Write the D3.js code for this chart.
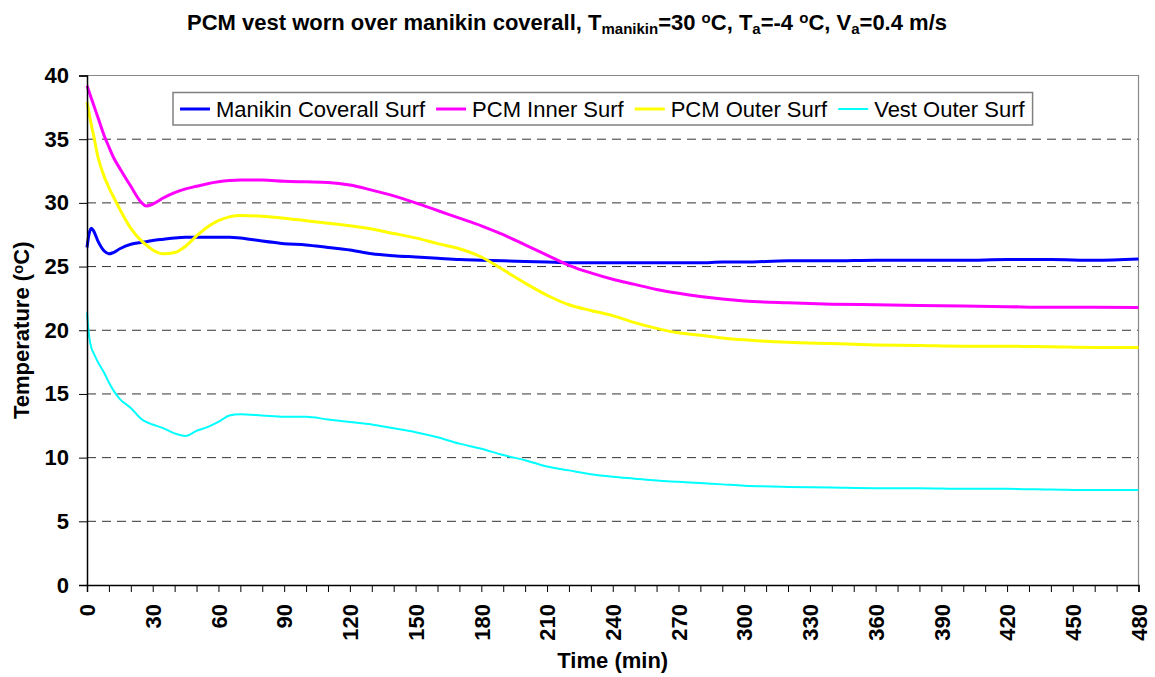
<!DOCTYPE html>
<html>
<head>
<meta charset="utf-8">
<script src="https://cdn.jsdelivr.net/npm/d3@7"></script>
<style>
  body { margin: 0; background: #fff; }
  text { font-family: Arial, "Liberation Sans", sans-serif; }
  .tick text { font-weight: bold; font-size: 22px; fill: #000; }
</style>
</head>
<body>
<script>
var w = 1155;
var h = 677;

// time in minutes, shared by all four series
var times = [0, 1, 2, 3, 5, 8, 10, 12, 15, 20, 25, 27, 30, 35, 40, 45, 50, 55, 60, 65, 70,
  80, 90, 100, 110, 120, 130, 140, 150, 160, 170, 180, 190, 200, 210, 220, 230, 240, 250,
  260, 270, 280, 290, 300, 320, 340, 360, 380, 400, 420, 440, 460, 480];

var manikin = [26.5, 27.6, 28.0, 27.8, 27.0, 26.2, 26.0, 26.1, 26.4, 26.75, 26.9, 26.95, 27.05,
  27.15, 27.25, 27.3, 27.3, 27.3, 27.3, 27.3, 27.25, 27.0, 26.8, 26.7, 26.5, 26.3, 26.0, 25.85,
  25.75, 25.65, 25.55, 25.5, 25.45, 25.4, 25.35, 25.3, 25.3, 25.3, 25.3, 25.3, 25.3, 25.3, 25.35,
  25.35, 25.45, 25.45, 25.5, 25.5, 25.5, 25.55, 25.55, 25.5, 25.6];

var pcmInner = [39.2, 38.7, 38.2, 37.7, 36.7, 35.2, 34.4, 33.6, 32.7, 31.3, 30.0, 29.75, 29.9,
  30.4, 30.8, 31.1, 31.3, 31.5, 31.65, 31.75, 31.8, 31.8, 31.7, 31.65, 31.6, 31.4, 31.0, 30.55,
  30.0, 29.4, 28.8, 28.2, 27.5, 26.7, 25.9, 25.1, 24.5, 24.0, 23.6, 23.2, 22.9, 22.65, 22.45,
  22.3, 22.15, 22.05, 22.0, 21.95, 21.9, 21.85, 21.8, 21.8, 21.78];

var pcmOuter = [37.9, 37.0, 36.1, 35.3, 33.6, 32.0, 31.2, 30.5, 29.5, 28.0, 27.0, 26.7, 26.3,
  26.0, 26.1, 26.6, 27.4, 28.1, 28.6, 28.9, 29.0, 28.95, 28.8, 28.6, 28.4, 28.2, 27.95, 27.6,
  27.25, 26.8, 26.4, 25.75, 24.75, 23.7, 22.75, 22.0, 21.55, 21.15, 20.6, 20.15, 19.8, 19.6,
  19.4, 19.25, 19.05, 18.95, 18.85, 18.8, 18.75, 18.75, 18.7, 18.65, 18.65];

var vestOuter = [21.4, 19.5, 18.6, 18.2, 17.5, 16.6, 15.9, 15.3, 14.6, 13.9, 13.0, 12.8, 12.6,
  12.3, 11.9, 11.7, 12.1, 12.4, 12.8, 13.3, 13.4, 13.3, 13.2, 13.2, 13.0, 12.8, 12.6, 12.3,
  12.0, 11.6, 11.1, 10.7, 10.2, 9.8, 9.3, 9.0, 8.7, 8.5, 8.35, 8.2, 8.1, 8.0, 7.9, 7.8, 7.7,
  7.65, 7.6, 7.6, 7.55, 7.55, 7.5, 7.45, 7.45];

var seriesNames = ['Manikin Coverall Surf', 'PCM Inner Surf', 'PCM Outer Surf', 'Vest Outer Surf'];
var seriesValues = [manikin, pcmInner, pcmOuter, vestOuter];
var seriesColors = ['#0000ff', '#ff00ff', '#ffff00', '#00ffff'];
var seriesWidths = [3, 3, 3, 2];

var xTicks = d3.range(0, 481, 30);
var xMinor = d3.range(0, 481, 10);
var yTicks = d3.range(0, 41, 5);

var plotLeft = 87, plotRight = 1138.5, plotTop = 75.5, plotBottom = 585;

var x = d3.scaleLinear().domain([0, 480]).range([plotLeft, plotRight]);
var y = d3.scaleLinear().domain([0, 40]).range([plotBottom, plotTop]);

var svg = d3.select('body').append('svg')
  .attr('width', w)
  .attr('height', h);

// dashed gridlines
svg.append('g')
  .selectAll('line')
  .data(yTicks.filter(function(d) { return d > 0 && d < 40; }))
  .enter().append('line')
  .attr('x1', plotLeft).attr('x2', plotRight)
  .attr('y1', function(d) { return y(d); })
  .attr('y2', function(d) { return y(d); })
  .attr('stroke', '#333')
  .attr('stroke-width', 1)
  .attr('stroke-dasharray', '9,6');

// top and right border
svg.append('path')
  .attr('d', 'M' + plotLeft + ',' + plotTop + 'H' + plotRight + 'V' + plotBottom)
  .attr('fill', 'none')
  .attr('stroke', '#888')
  .attr('stroke-width', 1.2);

// lines
var line = d3.line()
  .x(function(d, i) { return x(times[i]); })
  .y(function(d) { return y(d); })
  .curve(d3.curveMonotoneX);

svg.append('g')
  .selectAll('path')
  .data(seriesValues)
  .enter().append('path')
  .attr('d', line)
  .attr('fill', 'none')
  .attr('stroke', function(d, i) { return seriesColors[i]; })
  .attr('stroke-width', function(d, i) { return seriesWidths[i]; })
  .attr('stroke-linejoin', 'round');

// axes
svg.append('g')
  .attr('transform', 'translate(' + plotLeft + ',0)')
  .call(d3.axisLeft(y).tickValues(yTicks).tickSize(8).tickPadding(10).tickFormat(d3.format('d')));

svg.append('g')
  .attr('transform', 'translate(0,' + plotBottom + ')')
  .call(d3.axisBottom(x).tickValues(xMinor).tickSize(7).tickFormat(''));

svg.append('g')
  .attr('transform', 'translate(0,' + plotBottom + ')')
  .call(d3.axisBottom(x).tickValues(xTicks).tickSize(0).tickFormat(d3.format('d')))
  .call(function(g) { g.select('.domain').remove(); })
  .selectAll('.tick text')
  .attr('transform', 'rotate(-90)')
  .attr('text-anchor', 'end')
  .attr('x', -19)
  .attr('y', 0)
  .attr('dy', '0.35em');

svg.selectAll('.domain').attr('stroke', '#000').attr('stroke-width', 1.5);
svg.selectAll('.tick line').attr('stroke', '#000');

// legend
var legend = svg.append('g');
var box = legend.append('rect')
  .attr('x', 173).attr('y', 92.5)
  .attr('height', 32.5)
  .attr('fill', '#fff')
  .attr('stroke', '#808080')
  .attr('stroke-width', 1.5);

var lx = 180;
seriesNames.forEach(function(name, i) {
  legend.append('line')
    .attr('x1', lx).attr('x2', lx + 30)
    .attr('y1', 109).attr('y2', 109)
    .attr('stroke', seriesColors[i])
    .attr('stroke-width', seriesWidths[i]);
  var t = legend.append('text')
    .attr('x', lx + 36).attr('y', 117)
    .style('font-size', '22px')
    .text(name);
  lx += 36 + t.node().getComputedTextLength() + 11;
});
box.attr('width', lx - 173 - 3);

// title
var title = svg.append('text')
  .attr('x', 567).attr('y', 30)
  .attr('text-anchor', 'middle')
  .style('font-size', '22px')
  .style('font-weight', 'bold');
title.append('tspan').text('PCM vest worn over manikin coverall, T');
title.append('tspan').attr('baseline-shift', '-25%').style('font-size', '15px').text('manikin');
title.append('tspan').text('=30 ');
title.append('tspan').attr('baseline-shift', '45%').style('font-size', '15px').text('o');
title.append('tspan').text('C, T');
title.append('tspan').attr('baseline-shift', '-25%').style('font-size', '15px').text('a');
title.append('tspan').text('=-4 ');
title.append('tspan').attr('baseline-shift', '45%').style('font-size', '15px').text('o');
title.append('tspan').text('C, V');
title.append('tspan').attr('baseline-shift', '-25%').style('font-size', '15px').text('a');
title.append('tspan').text('=0.4 m/s');

// axis titles
var ylab = svg.append('text')
  .attr('transform', 'translate(29,' + ((plotTop + plotBottom) / 2) + ') rotate(-90)')
  .attr('text-anchor', 'middle')
  .style('font-size', '22px')
  .style('font-weight', 'bold');
ylab.append('tspan').text('Temperature (');
ylab.append('tspan').attr('baseline-shift', '40%').style('font-size', '15px').text('o');
ylab.append('tspan').text('C)');

svg.append('text')
  .attr('x', (plotLeft + plotRight) / 2).attr('y', 668)
  .attr('text-anchor', 'middle')
  .style('font-size', '22px')
  .style('font-weight', 'bold')
  .text('Time (min)');
</script>
</body>
</html>
